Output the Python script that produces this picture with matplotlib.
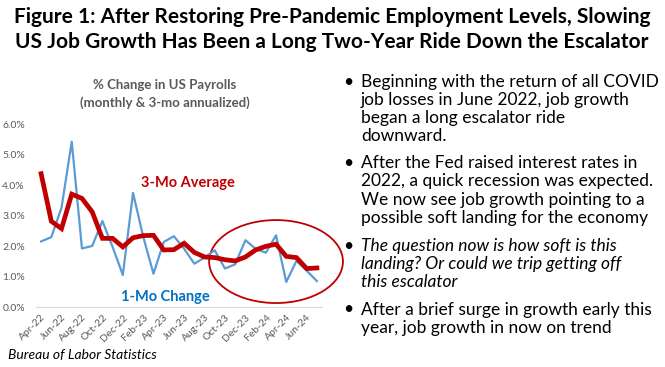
import matplotlib
matplotlib.use("Agg")
import matplotlib.pyplot as plt
from matplotlib.patches import Ellipse

plt.rcParams['font.family'] = ['Lato', 'DejaVu Sans']

# monthly data Apr-22 .. Jul-24, percent annualized
months = ['Apr-22', 'May-22', 'Jun-22', 'Jul-22', 'Aug-22', 'Sep-22', 'Oct-22',
          'Nov-22', 'Dec-22', 'Jan-23', 'Feb-23', 'Mar-23', 'Apr-23', 'May-23',
          'Jun-23', 'Jul-23', 'Aug-23', 'Sep-23', 'Oct-23', 'Nov-23', 'Dec-23',
          'Jan-24', 'Feb-24', 'Mar-24', 'Apr-24', 'May-24', 'Jun-24', 'Jul-24']
one_mo = [2.16, 2.30, 3.27, 5.43, 1.93, 2.01, 2.83, 1.98, 1.06, 3.75, 2.31, 1.10,
          2.14, 2.33, 1.92, 1.43, 1.63, 1.87, 1.27, 1.41, 2.20, 1.92, 1.79, 2.36,
          0.83, 1.52, 1.20, 0.86]
three_mo = [4.38, 2.82, 2.58, 3.71, 3.57, 3.13, 2.26, 2.26, 1.98, 2.28, 2.35, 2.36,
            1.88, 1.89, 2.10, 1.80, 1.65, 1.63, 1.56, 1.52, 1.65, 1.88, 2.00, 2.07,
            1.67, 1.63, 1.27, 1.29]

W, H = 665, 367
fig = plt.figure(figsize=(W / 100, H / 100), dpi=100)

def px(x, y):
    return x / W, 1 - y / H

# title
fig.text(*px(332, 17), 'Figure 1: After Restoring Pre-Pandemic Employment Levels, Slowing',
         ha='center', va='center', fontsize=15, fontweight='bold', color='black')
fig.text(*px(332, 42), 'US Job Growth Has Been a Long Two-Year Ride Down the Escalator',
         ha='center', va='center', fontsize=15, fontweight='bold', color='black')

ax = fig.add_axes([36 / W, 1 - 307.3 / H, 286 / W, 183 / H])
x = list(range(len(months)))
ax.plot(x, one_mo, color='#5B9BD5', lw=1.6)
ax.plot(x, three_mo, color='#C00000', lw=3.4, solid_joinstyle='miter')

ax.set_xlim(-0.5, len(months) - 0.5)
ax.set_ylim(0, 6)
ax.set_yticks([0, 1, 2, 3, 4, 5, 6])
ax.set_yticklabels(['%.1f%%' % v for v in range(7)])
ax.set_xticks(x[::2])
ax.set_xticklabels(months[::2], rotation=45, ha='right', rotation_mode='anchor')
ax.tick_params(axis='both', length=0, labelsize=7.5, colors='#595959')
ax.tick_params(axis='y', pad=8)
ax.tick_params(axis='x', pad=4)
for s in ['top', 'right', 'left']:
    ax.spines[s].set_visible(False)
ax.spines['bottom'].set_color('#D9D9D9')

ax.text(14.4, 4.09, '3-Mo Average', color='#C00000', fontsize=10.5,
        fontweight='bold', ha='center', va='center')
ax.text(12.2, 0.35, '1-Mo Change', color='#0070C0', fontsize=10.5,
        fontweight='bold', ha='center', va='center')

ell = Ellipse((23.0, 1.50), 13.1, 2.72, fill=False, edgecolor='#C00000',
              lw=1.3, clip_on=False)
ax.add_patch(ell)

fig.text(*px(165, 85), '% Change in US Payrolls', ha='center', va='center',
         fontsize=9.5, fontweight='bold', color='#595959')
fig.text(*px(165, 103), '(monthly & 3-mo annualized)', ha='center', va='center',
         fontsize=9.5, fontweight='bold', color='#595959')

# bullet text
bullets = [
    (82, ['Beginning with the return of all COVID', 'job losses in June 2022, job growth',
          'began a long escalator ride', 'downward.'], 'normal'),
    (163.5, ['After the Fed raised interest rates in', '2022, a quick recession was expected.',
             'We now see job growth pointing to a', 'possible soft landing for the economy'], 'normal'),
    (246, ['The question now is how soft is this', 'landing? Or could we trip getting off',
           'this escalator'], 'italic'),
    (309.5, ['After a brief surge in growth early this', 'year, job growth in now on trend'], 'normal'),
]
for y0, lines, style in bullets:
    fig.text(*px(348, y0), '\u2022', ha='center', va='center', fontsize=12.5, color='black')
    for i, line in enumerate(lines):
        fig.text(*px(361, y0 + i * 18), line, ha='left', va='center',
                 fontsize=12.5, style=style, color='black')

fig.text(*px(8, 355), 'Bureau of Labor Statistics', ha='left', va='center',
         fontsize=10, style='italic', color='black')

fig.savefig('out.png', dpi=100)
